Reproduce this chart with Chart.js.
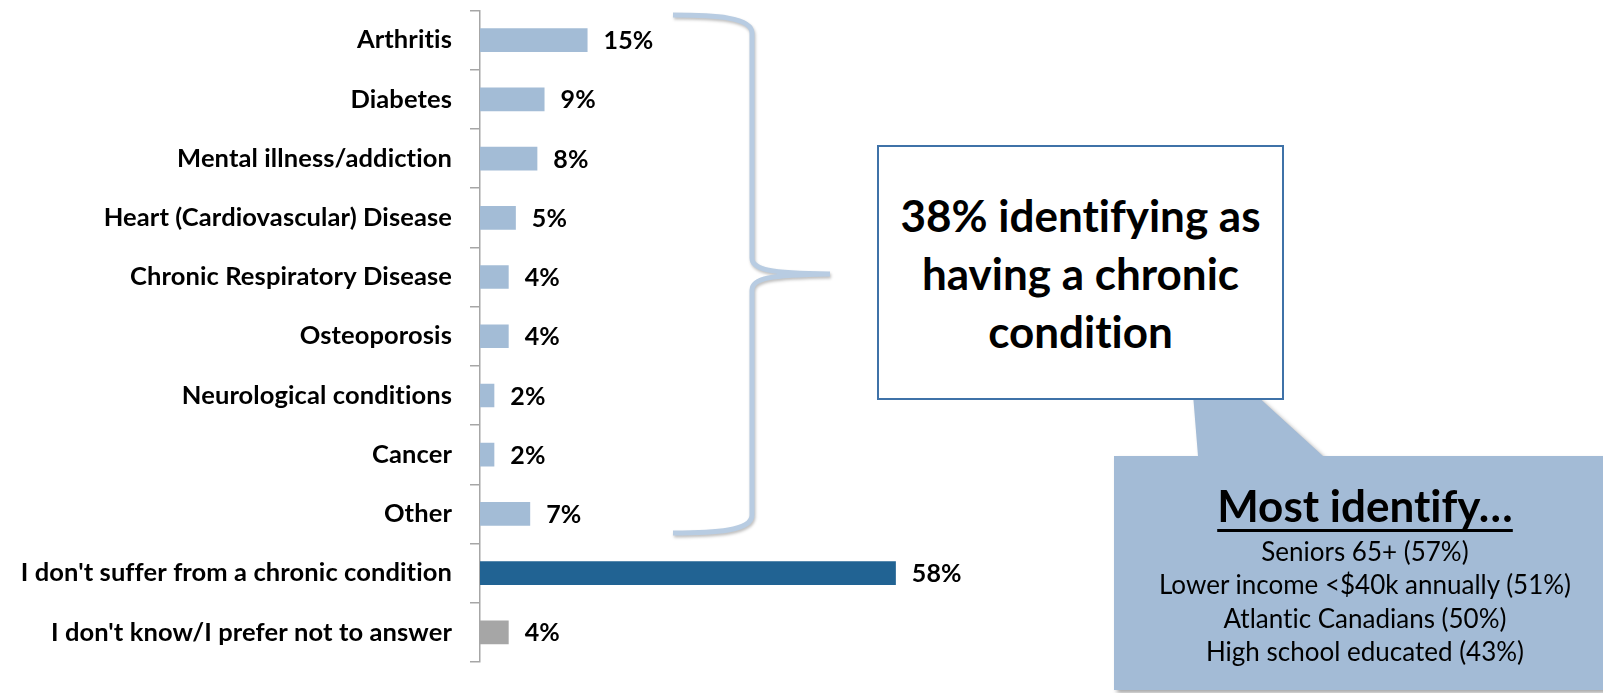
<!DOCTYPE html>
<html>
<head>
<meta charset="utf-8">
<script src="https://cdn.jsdelivr.net/npm/chart.js@4.4.1/dist/chart.umd.min.js"></script>
<style>
  html, body { margin: 0; padding: 0; background: #ffffff; }
  #wrap { position: relative; width: 1603px; height: 693px; overflow: hidden; font-family: Lato, "Open Sans", sans-serif; font-variant-ligatures: none; }
  #chart { position: absolute; left: 0; top: 0; }
  .box { position: absolute; left: 877px; top: 145px; width: 403px; height: 251px; border: 2px solid #3F72A8; background: #fff; }
  .boxtext { position: absolute; left: 877px; top: 186px; width: 407px; text-align: center; font-weight: 700; font-size: 44px; line-height: 58px; color: #000; white-space: nowrap; }
  .calltitle { position: absolute; left: 1115px; top: 481px; width: 500px; text-align: center; font-weight: 700; font-size: 44px; line-height: 48px; color: #000; white-space: nowrap; }
  .calltitle span { text-decoration: underline; text-decoration-thickness: 3px; text-underline-offset: 7px; }
  .calllines { position: absolute; left: 1115px; top: 535px; width: 500px; text-align: center; font-weight: 400; font-size: 26px; line-height: 33.3px; color: #000; white-space: nowrap; }
</style>
</head>
<body>
<div id="wrap">
  <canvas id="chart" width="1603" height="693"></canvas>
  <div class="box"></div>
  <div class="boxtext">38% identifying as<br>having a chronic<br>condition</div>
  <div class="calltitle"><span>Most identify…</span></div>
  <div class="calllines">Seniors 65+ (57%)<br>Lower income &lt;$40k annually (51%)<br>Atlantic Canadians (50%)<br>High school educated (43%)</div>
</div>
<script>
const categories = [
  "Arthritis",
  "Diabetes",
  "Mental illness/addiction",
  "Heart (Cardiovascular) Disease",
  "Chronic Respiratory Disease",
  "Osteoporosis",
  "Neurological conditions",
  "Cancer",
  "Other",
  "I don't suffer from a chronic condition",
  "I don't know/I prefer not to answer"
];
const values = [15, 9, 8, 5, 4, 4, 2, 2, 7, 58, 4];
const barColors = [
  "#A3BCD6", "#A3BCD6", "#A3BCD6", "#A3BCD6", "#A3BCD6", "#A3BCD6",
  "#A3BCD6", "#A3BCD6", "#A3BCD6", "#216393", "#A6A6A6"
];

const noLigatures = {
  id: 'noLigatures',
  beforeDraw(chart) {
    try { chart.ctx.letterSpacing = '0.1px'; } catch (e) {}
  }
};

const valueLabels = {
  id: 'valueLabels',
  afterDatasetsDraw(chart) {
    const ctx = chart.ctx;
    const meta = chart.getDatasetMeta(0);
    ctx.save();
    ctx.font = 'bold 25px Lato, "Open Sans", sans-serif';
    ctx.fillStyle = '#000';
    ctx.textAlign = 'left';
    ctx.textBaseline = 'middle';
    meta.data.forEach((el, i) => {
      ctx.fillText(values[i] + '%', el.x + 16, el.y + 1);
    });
    ctx.restore();
  }
};

const decorations = {
  id: 'decorations',
  afterDraw(chart) {
    const ctx = chart.ctx;
    const ys = chart.scales.y;
    const top = ys.getPixelForValue(0) - 25;
    const bot = ys.getPixelForValue(8) + 19;
    const mid = (top + bot) / 2;
    const xL = 673, xV = 752, xP = 830;
    ctx.save();
    // brace
    ctx.shadowColor = 'rgba(0,0,0,0.25)';
    ctx.shadowBlur = 3;
    ctx.shadowOffsetX = 1;
    ctx.shadowOffsetY = 2;
    ctx.strokeStyle = '#B8CCE2';
    ctx.lineWidth = 5;
    ctx.lineCap = 'butt';
    ctx.beginPath();
    ctx.moveTo(xL, top);
    ctx.bezierCurveTo(715, top, xV, top + 2, xV, top + 18);
    ctx.lineTo(xV, mid - 16);
    ctx.bezierCurveTo(xV, mid - 4, 770, mid - 1, xP, mid);
    ctx.moveTo(xP, mid);
    ctx.bezierCurveTo(770, mid + 1, xV, mid + 4, xV, mid + 16);
    ctx.lineTo(xV, bot - 18);
    ctx.bezierCurveTo(xV, bot - 2, 715, bot, xL, bot);
    ctx.stroke();
    ctx.restore();

    // callout
    ctx.save();
    ctx.shadowColor = 'rgba(0,0,0,0.35)';
    ctx.shadowBlur = 4;
    ctx.shadowOffsetX = 3;
    ctx.shadowOffsetY = 3;
    ctx.fillStyle = '#A3BBD6';
    ctx.beginPath();
    ctx.moveTo(1114, 456);
    ctx.lineTo(1198, 456);
    ctx.lineTo(1188, 333);
    ctx.lineTo(1323, 456);
    ctx.lineTo(1610, 456);
    ctx.lineTo(1610, 690);
    ctx.lineTo(1114, 690);
    ctx.closePath();
    ctx.fill();
    ctx.restore();
  }
};

new Chart(document.getElementById('chart'), {
  type: 'bar',
  data: {
    labels: categories,
    datasets: [{
      data: values,
      backgroundColor: barColors,
      borderWidth: 0,
      barPercentage: 0.4,
      categoryPercentage: 1.0
    }]
  },
  options: {
    indexAxis: 'y',
    responsive: false,
    animation: false,
    events: [],
    layout: { padding: { left: 10, top: 10.5, right: 406, bottom: 31 } },
    plugins: { legend: { display: false }, tooltip: { enabled: false } },
    scales: {
      x: { display: false, min: 0, max: 100 },
      y: {
        afterFit(s) { s.width = 470; s.paddingTop = 0; s.paddingBottom = 0; },
        border: { display: true, color: '#A6A6A6', width: 1.5 },
        grid: { display: true, drawOnChartArea: false, drawTicks: true, tickLength: 10, color: '#A6A6A6', lineWidth: 1.5 },
        ticks: {
          padding: 18,
          color: '#000',
          font: { family: 'Lato, "Open Sans", sans-serif', size: 25.5, weight: 'bold' }
        }
      }
    }
  },
  plugins: [noLigatures, decorations, valueLabels]
});
</script>
</body>
</html>
